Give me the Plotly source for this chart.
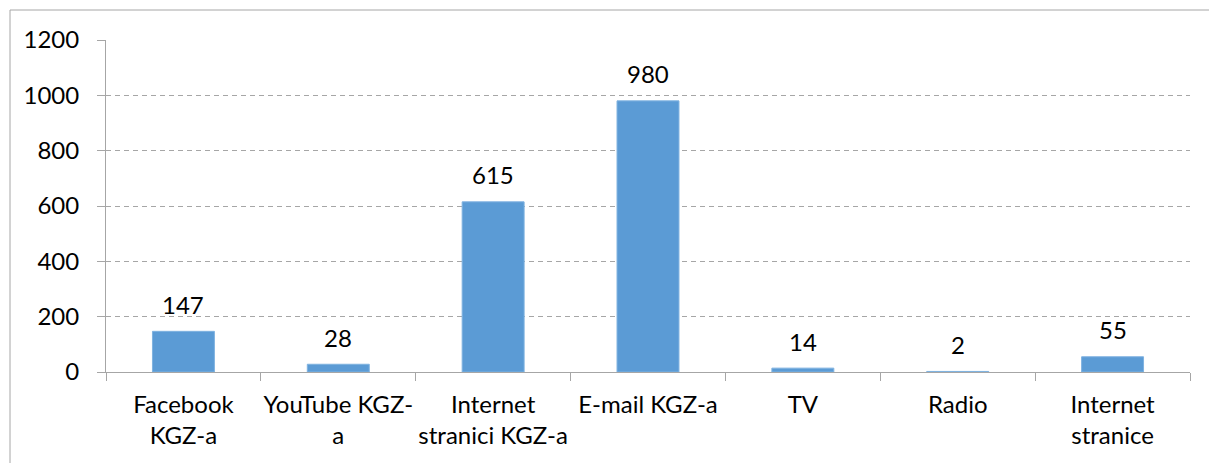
import plotly.graph_objects as go

categories = ["Facebook<br>KGZ-a", "YouTube KGZ-<br>a", "Internet<br>stranici KGZ-a",
              "E-mail KGZ-a", "TV", "Radio", "Internet<br>stranice"]
values = [147, 28, 615, 980, 14, 2, 55]
y_ticks = [0, 200, 400, 600, 800, 1000, 1200]

W, H = 1209, 463
L, R, T, B = 106, 19, 40, 91
pw, ph = W - L - R, H - T - B

FONT = "Lato"
FS = 24
grey = "#a6a6a6"

fig = go.Figure(go.Bar(
    x=categories, y=values,
    marker=dict(color="#5b9bd5", line=dict(width=1, color="#7fb2e0")),
    cliponaxis=False,
))

annotations = [
    dict(x=c, y=v, xref="x", yref="y", text=str(v), showarrow=False,
         yanchor="middle", xanchor="center", yshift=27,
         font=dict(family=FONT, size=FS, color="#000000"))
    for c, v in zip(categories, values)
]

fig.update_layout(
    width=W, height=H,
    margin=dict(l=L, r=R, t=T, b=B, pad=0),
    paper_bgcolor="white", plot_bgcolor="white",
    bargap=0.6, showlegend=False,
    font=dict(family=FONT, size=FS, color="#000000"),
    annotations=annotations,
    xaxis=dict(
        type="category", showgrid=False, showline=True, linecolor=grey, linewidth=1,
        ticks="outside", tickson="boundaries", ticklen=8, tickcolor=grey,
        ticklabelstandoff=11, tickangle=0, automargin=False,
        tickfont=dict(family=FONT, size=FS, color="#000000"),
    ),
    yaxis=dict(
        range=[0, 1200], tickvals=y_ticks, ticktext=[str(v) for v in y_ticks],
        showline=True, linecolor=grey, linewidth=1,
        ticks="outside", ticklen=8, tickcolor=grey,
        showgrid=True, gridcolor=grey, griddash="5px,4px", gridwidth=1,
        zeroline=False, ticklabelstandoff=13, automargin=False,
        tickfont=dict(family=FONT, size=FS, color="#000000"),
    ),
    shapes=[dict(
        type="rect", xref="paper", yref="paper",
        x0=(10 - L) / pw, x1=(W + 20 - L) / pw,
        y0=-(H + 20 - T - ph) / ph, y1=1 + (T - 10) / ph,
        line=dict(color=grey, width=1), fillcolor="rgba(0,0,0,0)", layer="below",
    )],
)

fig.write_html("out.html", config={"displayModeBar": False},
               post_script="document.body.style.margin='0';document.body.style.overflow='hidden';")
